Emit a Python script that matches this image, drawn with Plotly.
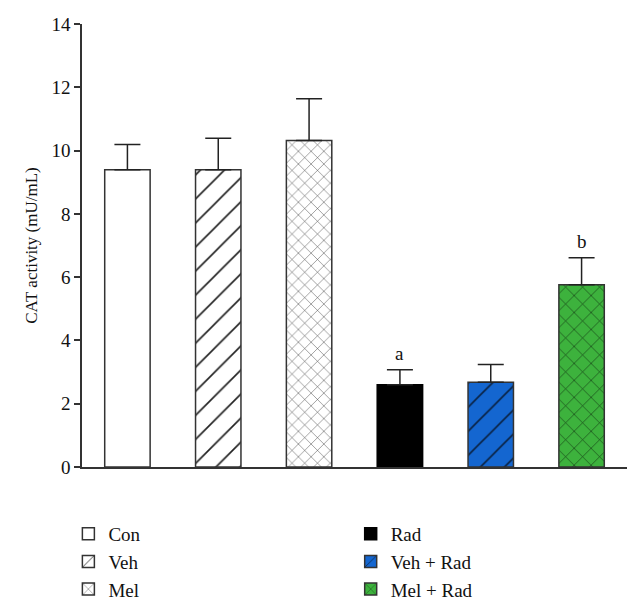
import plotly.graph_objects as go

categories = ["Con", "Veh", "Mel", "Rad", "Veh + Rad", "Mel + Rad"]
means = [9.39, 9.39, 10.32, 2.6, 2.68, 5.76]
errors = [0.8, 1.0, 1.32, 0.47, 0.56, 0.85]
fill_colors = ["white", "white", "white", "black", "#1466D0", "#3DB23D"]
patterns = ["", "/", "x", "", "/", "x"]
pattern_sizes = [10, 17, 9, 10, 17, 12]
pattern_fg = ["#333333", "#222222", "#333333", "#000000", "#0A2345", "#123812"]
legend_groups = ["legend", "legend", "legend", "legend2", "legend2", "legend2"]
letters = ["", "", "", "a", "", "b"]
y_ticks = [0, 2, 4, 6, 8, 10, 12, 14]

FONT = "Liberation Serif, Times New Roman, serif"

fig = go.Figure()
for i, cat in enumerate(categories):
    fig.add_trace(go.Bar(
        x=[i], y=[means[i]], name=cat, width=0.5,
        marker=dict(
            color=fill_colors[i],
            line=dict(color="#000000" if cat == "Rad" else "#333333", width=1.5),
            pattern=dict(shape=patterns[i], size=pattern_sizes[i], solidity=0.1,
                         fgcolor=pattern_fg[i], fgopacity=1, bgcolor=fill_colors[i],
                         fillmode="overlay"),
        ),
        error_y=dict(type="data", symmetric=False, array=[errors[i]], arrayminus=[0],
                     color="#222222", thickness=1.5, width=13),
        legend=legend_groups[i],
    ))

for i, t in enumerate(letters):
    if t:
        fig.add_annotation(x=i, y=means[i] + errors[i], text=t, showarrow=False,
                           yanchor="bottom", yshift=4,
                           font=dict(family=FONT, size=19, color="#111111"))

legend_common = dict(orientation="v", yanchor="top", y=-0.108, xanchor="left",
                     font=dict(family=FONT, size=19, color="#111111"),
                     traceorder="normal", itemclick=False, tracegroupgap=0,
                     bgcolor="rgba(0,0,0,0)")

fig.update_layout(
    width=625, height=595,
    margin=dict(l=74, r=6, t=16, b=136, autoexpand=False),
    plot_bgcolor="white", paper_bgcolor="white",
    font=dict(family=FONT, size=17, color="#111111"),
    xaxis=dict(range=[-0.5, 5.5], showticklabels=False, ticks="", showgrid=False,
               zeroline=False, showline=True, linecolor="#333333", linewidth=2),
    yaxis=dict(range=[0, 14], tickvals=y_ticks, ticks="outside", ticklen=6, tickwidth=1.5,
               tickcolor="#333333", showgrid=False, zeroline=False, showline=True,
               linecolor="#333333", linewidth=1.5,
               title=dict(text="CAT activity (mU/mL)", font=dict(size=17), standoff=10),
               tickfont=dict(size=19)),
    legend=dict(x=-0.025, **legend_common),
    legend2=dict(x=0.493, **legend_common),
)

fig.write_html("out.html")
